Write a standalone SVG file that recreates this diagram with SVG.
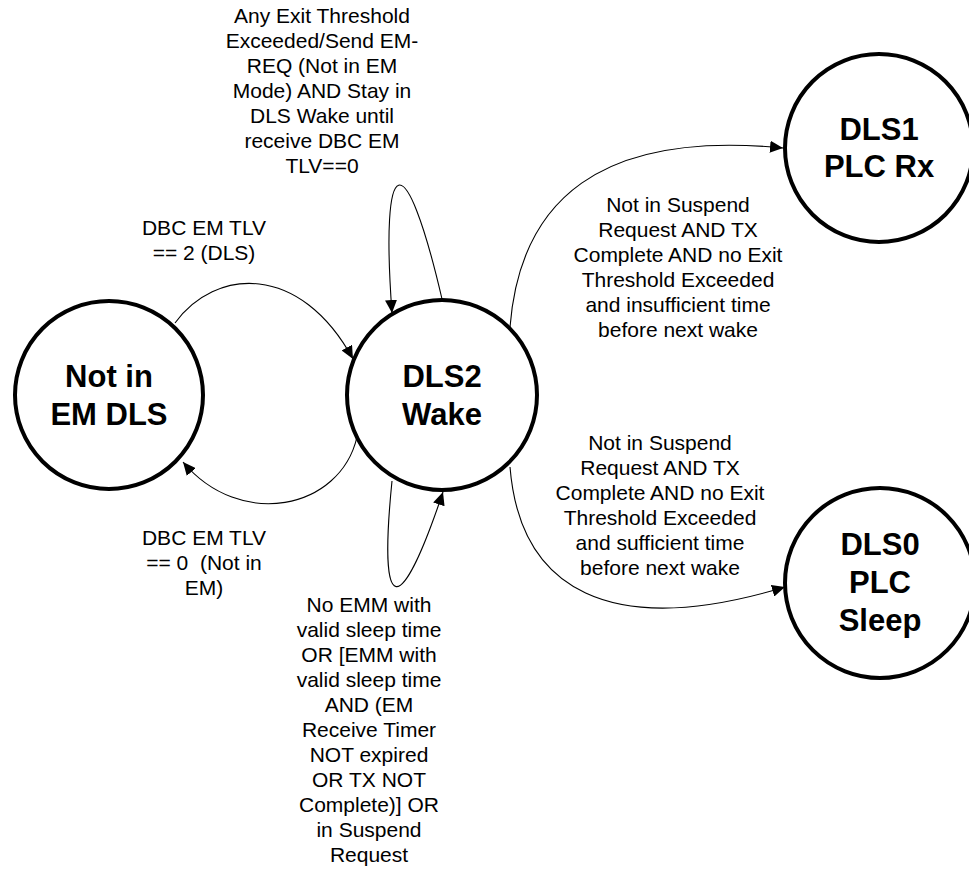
<svg xmlns="http://www.w3.org/2000/svg" width="969" height="873" viewBox="0 0 969 873">
<style>
.node{fill:#fff;stroke:#000;stroke-width:4}
.nl{font-family:"Liberation Sans",Arial,sans-serif;font-size:31px;font-weight:bold;text-anchor:middle;fill:#000}
.el{font-family:"Liberation Sans",Arial,sans-serif;font-size:21px;text-anchor:middle;fill:#000}
.edge{fill:none;stroke:#000;stroke-width:1.1;marker-end:url(#arr)}
</style>
<defs>
<marker id="arr" markerUnits="userSpaceOnUse" markerWidth="14" markerHeight="12" refX="13" refY="6" orient="auto">
<path d="M0,0 L13,6 L0,12 Z" fill="#000"/>
</marker>
</defs>
<rect width="969" height="873" fill="#fff"/>
<g id="connectors">
<path class="edge" d="M175,323 C215,268 300,262 353,359"/>
<path class="edge" d="M357,437 C340,510 240,530 183,462"/>
<path class="edge" d="M442,299 C405,140 380,150 392,313"/>
<path class="edge" d="M392,481 C378,620 400,620 443,492"/>
<path class="edge" d="M510,327 C520,200 600,130 783,148"/>
<path class="edge" d="M510,467 C520,590 610,640 785,587"/>
</g>
<g id="node-not-in-em-dls">
<circle class="node" cx="109" cy="395" r="94"/>
<text class="nl" x="109" y="387">Not in</text>
<text class="nl" x="109" y="425">EM DLS</text>
</g>
<g id="node-dls2">
<circle class="node" cx="442" cy="395" r="95"/>
<text class="nl" x="442" y="387">DLS2</text>
<text class="nl" x="442" y="425">Wake</text>
</g>
<g id="node-dls1">
<circle class="node" cx="879" cy="148" r="94"/>
<text class="nl" x="879" y="140">DLS1</text>
<text class="nl" x="879" y="177">PLC Rx</text>
</g>
<g id="node-dls0">
<circle class="node" cx="880" cy="583" r="95"/>
<text class="nl" x="880" y="555">DLS0</text>
<text class="nl" x="880" y="593">PLC</text>
<text class="nl" x="880" y="631">Sleep</text>
</g>
<g id="labels">
<text class="el" x="322" y="23">Any Exit Threshold</text>
<text class="el" x="322" y="48">Exceeded/Send EM-</text>
<text class="el" x="322" y="73">REQ (Not in EM</text>
<text class="el" x="322" y="98">Mode) AND Stay in</text>
<text class="el" x="322" y="123">DLS Wake until</text>
<text class="el" x="322" y="148">receive DBC EM</text>
<text class="el" x="322" y="173">TLV==0</text>

<text class="el" x="204" y="235">DBC EM TLV</text>
<text class="el" x="204" y="260">== 2 (DLS)</text>

<text class="el" x="204" y="545">DBC EM TLV</text>
<text class="el" x="204" y="570" xml:space="preserve">== 0  (Not in</text>
<text class="el" x="204" y="595">EM)</text>

<text class="el" x="369" y="612">No EMM with</text>
<text class="el" x="369" y="637">valid sleep time</text>
<text class="el" x="369" y="662">OR [EMM with</text>
<text class="el" x="369" y="687">valid sleep time</text>
<text class="el" x="369" y="712">AND (EM</text>
<text class="el" x="369" y="737">Receive Timer</text>
<text class="el" x="369" y="762">NOT expired</text>
<text class="el" x="369" y="787">OR TX NOT</text>
<text class="el" x="369" y="812">Complete)] OR</text>
<text class="el" x="369" y="837">in Suspend</text>
<text class="el" x="369" y="862">Request</text>

<text class="el" x="678" y="212">Not in Suspend</text>
<text class="el" x="678" y="237">Request AND TX</text>
<text class="el" x="678" y="262">Complete AND no Exit</text>
<text class="el" x="678" y="287">Threshold Exceeded</text>
<text class="el" x="678" y="312">and insufficient time</text>
<text class="el" x="678" y="337">before next wake</text>

<text class="el" x="660" y="450">Not in Suspend</text>
<text class="el" x="660" y="475">Request AND TX</text>
<text class="el" x="660" y="500">Complete AND no Exit</text>
<text class="el" x="660" y="525">Threshold Exceeded</text>
<text class="el" x="660" y="550">and sufficient time</text>
<text class="el" x="660" y="575">before next wake</text>
</g>
</svg>
